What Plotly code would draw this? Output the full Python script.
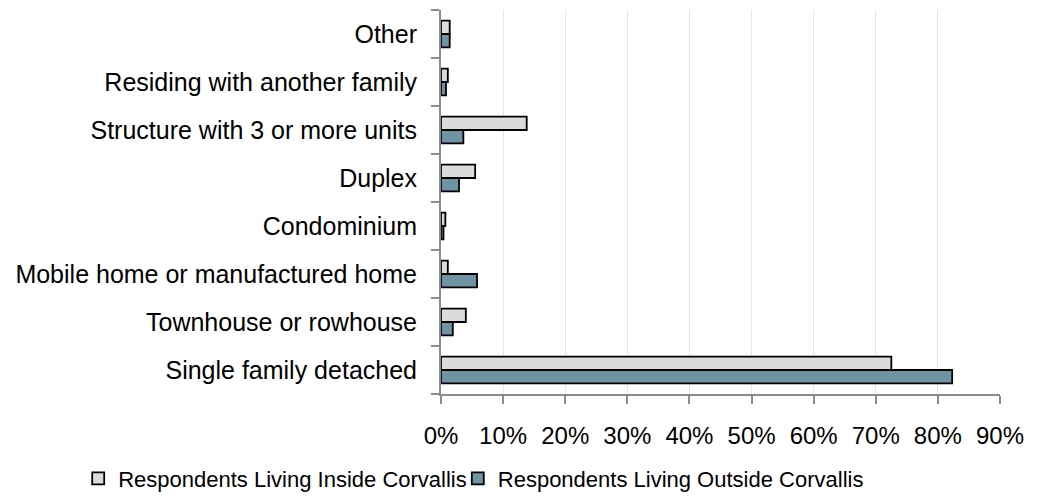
import plotly.graph_objects as go

categories = [
    'Single family detached',
    'Townhouse or rowhouse',
    'Mobile home or manufactured home',
    'Condominium',
    'Duplex',
    'Structure with 3 or more units',
    'Residing with another family',
    'Other',
]
inside_pct = [72.5, 4.0, 1.1, 0.7, 5.5, 13.8, 1.1, 1.4]
outside_pct = [82.3, 1.9, 5.8, 0.4, 2.9, 3.6, 0.8, 1.4]

x_ticks = [0, 10, 20, 30, 40, 50, 60, 70, 80, 90]
x_ticklabels = [f'{t}%' for t in x_ticks]

label_font = 'Liberation Sans, Arial, sans-serif'

# outside first so that it sits below the inside bar in each group
traces = [
    go.Bar(
        name='Respondents Living Outside Corvallis',
        y=categories,
        x=outside_pct,
        orientation='h',
        marker=dict(color='#6F93A2', line=dict(color='black', width=1.8)),
        legend='legend2',
    ),
    go.Bar(
        name='Respondents Living Inside Corvallis',
        y=categories,
        x=inside_pct,
        orientation='h',
        marker=dict(color='#DADCDC', line=dict(color='black', width=1.8)),
        legend='legend',
    ),
]

legend_style = dict(
    orientation='h',
    xanchor='left',
    y=-0.22,
    yanchor='middle',
    font=dict(family=label_font, size=22),
    itemwidth=30,
    bgcolor='rgba(0,0,0,0)',
)

# the page body has an 8px margin, so the figure is a bit smaller than the window
layout = go.Layout(
    width=1029,
    height=493,
    plot_bgcolor='white',
    paper_bgcolor='white',
    barmode='group',
    bargap=0.44,
    bargroupgap=0,
    margin=dict(l=433, r=37, t=2, b=104),
    font=dict(family=label_font, size=25, color='black'),
    xaxis=dict(
        range=[0, 90],
        tickvals=x_ticks,
        ticktext=x_ticklabels,
        showgrid=True,
        gridcolor='#E6E6E6',
        gridwidth=1,
        showline=True,
        linecolor='#8C8C8C',
        linewidth=2,
        ticks='outside',
        ticklen=8,
        tickwidth=2,
        tickcolor='#8C8C8C',
        ticklabelstandoff=11,
        tickfont=dict(size=24),
        zeroline=False,
        fixedrange=True,
    ),
    yaxis=dict(
        showline=True,
        linecolor='#8C8C8C',
        linewidth=2,
        ticks='outside',
        ticklen=8,
        tickwidth=2,
        tickcolor='#8C8C8C',
        tickson='boundaries',
        ticklabelstandoff=17,
        showgrid=False,
        tickfont=dict(size=25),
    ),
    legend=dict(legend_style, x=-0.649),
    legend2=dict(legend_style, x=0.030),
    showlegend=True,
)

fig = go.Figure(data=traces, layout=layout)
fig.write_html('out.html')
